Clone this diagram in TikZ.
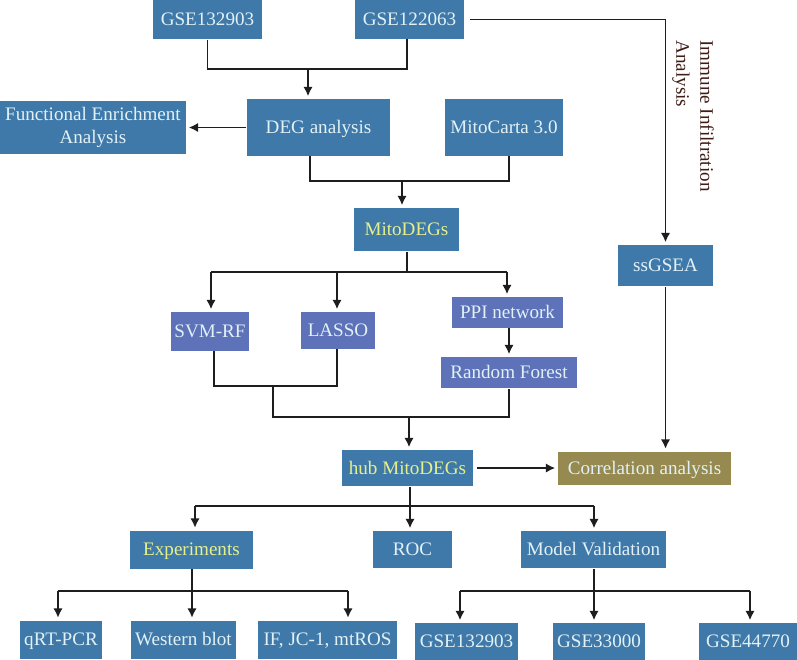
\documentclass[tikz,border=0pt]{standalone}
\usepackage{fontspec}
\setmainfont{Liberation Serif}
\usetikzlibrary{positioning,arrows.meta}
\definecolor{boxblue}{HTML}{3F79A9}
\definecolor{boxpurple}{HTML}{5D72B8}
\definecolor{boxolive}{HTML}{968A50}
\definecolor{textpale}{HTML}{E2F1F6}
\definecolor{textyellow}{HTML}{E6F08A}
\definecolor{textbrown}{HTML}{3E1C14}
\definecolor{lineblack}{HTML}{1E1E1E}

\begin{document}
\begin{tikzpicture}[-{Latex[length=8pt,width=8pt]}, x=0.03cm, y=-0.03cm, on grid, line width=1.4pt, shorten >=0.06cm, draw=lineblack,
boxsize/.style 2 args={minimum width=#1*0.03cm, minimum height=#2*0.03cm},
stepbox/.style={rectangle, inner sep=0pt, align=center, text=textpale, text height=11pt, text depth=0.4pt,
  font=\fontsize{16.3}{19}\selectfont},
bluebox/.style={stepbox, fill=boxblue},
purplebox/.style={stepbox, fill=boxpurple},
olivebox/.style={stepbox, fill=boxolive},
plain/.style={-, shorten >=0pt}]
\useasboundingbox (0,0) rectangle (797,659);

\node[bluebox, boxsize={109}{39}] (TopLeft) at (207.5,19.5) {GSE132903};
\node[bluebox, boxsize={109}{39}] (TopRight) [right=6.06cm of TopLeft] {GSE122063};
\node[bluebox, boxsize={143}{57}] (Deg) [below right=3.24cm and 3.33cm of TopLeft] {DEG analysis};
\node[bluebox, boxsize={186}{53}, text height={}, text depth={}] (Functional) [left=6.765cm of Deg] {Functional Enrichment\\Analysis};
\node[bluebox, boxsize={118}{57}] (MitoCarta) [right=5.565cm of Deg] {MitoCarta 3.0};
\node[bluebox, boxsize={105}{43}, text=textyellow] (MitoDegs) [below right=3.06cm and 2.64cm of Deg] {MitoDEGs};
\node[bluebox, boxsize={95}{41}] (SsGsea) [below right=7.38cm and 7.68cm of TopRight] {ssGSEA};
\node[purplebox, boxsize={78}{39}] (SvmRf) [below left=3.06cm and 5.895cm of MitoDegs] {SVM-RF};
\node[purplebox, boxsize={74}{37}] (Lasso) [below left=3.03cm and 2.055cm of MitoDegs] {LASSO};
\node[purplebox, boxsize={111}{31}] (Ppi) [below right=2.49cm and 3.03cm of MitoDegs] {PPI network};
\node[purplebox, boxsize={136}{31}] (Forest) [below right=1.8cm and 0.045cm of Ppi] {Random Forest};
\node[bluebox, boxsize={131}{36}, text=textyellow] (Hub) [below left=2.865cm and 3.045cm of Forest] {hub MitoDEGs};
\node[olivebox, boxsize={173}{33}] (Correlation) [right=7.11cm of Hub] {Correlation analysis};
\node[bluebox, boxsize={79}{37}] (Roc) [below right=2.445cm and 0.15cm of Hub] {ROC};
\node[bluebox, boxsize={123}{38}, text=textyellow] (Experiments) [left=6.63cm of Roc] {Experiments};
\node[bluebox, boxsize={145}{37}] (Validation) [right=5.43cm of Roc] {Model Validation};
\node[bluebox, boxsize={105}{38}] (Western) [below left=2.7cm and 0.24cm of Experiments] {Western blot};
\node[bluebox, boxsize={82}{38}] (Qpcr) [left=3.675cm of Western] {qRT-PCR};
\node[bluebox, boxsize={139}{38}] (IfJc) [right=4.32cm of Western] {IF, JC-1, mtROS};
\node[bluebox, boxsize={92}{37}] (SetB) [below right=2.76cm and 0.165cm of Validation] {GSE33000};
\node[bluebox, boxsize={103}{37}] (SetA) [left=3.975cm of SetB] {GSE132903};
\node[bluebox, boxsize={98}{37}] (SetC) [right=4.47cm of SetB] {GSE44770};
\node[rotate=-90, align=left, text=textbrown, font=\fontsize{16.3}{20.5}\selectfont] (Immune) [below right=2.895cm and 8.505cm of TopRight] {Immune Infiltration\\Analysis};

\coordinate (TopJoin) at (308,69);
\coordinate (TopDrop) at (407,39);
\coordinate (DegDrop) at (310,156);
\coordinate (CartaDrop) at (509,156);
\coordinate (DegJoin) at (402,181);
\coordinate (MitoJoin) at (407,272);
\coordinate (SvmArrow) at (211,272);
\coordinate (LassoArrow) at (337,272);
\coordinate (PpiArrow) at (507,272);
\coordinate (ForestArrow) at (509,328);
\coordinate (SvmDrop) at (214,351);
\coordinate (LassoDrop) at (337,349);
\coordinate (LowJoin) at (273,386);
\coordinate (HubJoin) at (409,417);
\coordinate (HubMid) at (410,506);
\coordinate (ExpArrow) at (195,506);
\coordinate (ValArrow) at (594,506);
\coordinate (ExpMid) at (192,591);
\coordinate (ValMid) at (594,591);
\coordinate (QpcrArrow) at (58,591);
\coordinate (IfArrow) at (348,591);
\coordinate (SetAArrow) at (460,591);
\coordinate (SetCArrow) at (750,591);

\draw[plain] (TopLeft.south) |- (TopJoin) -| (TopDrop);
\draw (TopJoin) -- (TopJoin |- Deg.north);
\path (Deg) edge (Functional);
\draw[plain] (DegDrop) |- (DegJoin) -| (CartaDrop);
\draw (DegJoin) -- (DegJoin |- MitoDegs.north);
\draw[plain] (MitoJoin |- MitoDegs.south) -- (MitoJoin);
\draw[plain] (SvmArrow) -- (PpiArrow);
\draw (SvmArrow) -- (SvmArrow |- SvmRf.north);
\draw (LassoArrow) -- (LassoArrow |- Lasso.north);
\draw (PpiArrow) -- (PpiArrow |- Ppi.north);
\draw (ForestArrow) -- (ForestArrow |- Forest.north);
\draw[plain] (SvmDrop) |- (LassoDrop |- LowJoin) -- (LassoDrop);
\draw[plain] (LowJoin) |- (HubJoin) -| (ForestArrow |- Forest.south);
\draw (HubJoin) -- (HubJoin |- Hub.north);
\draw[shorten <=0.15cm] (TopRight.east) -| (SsGsea.north);
\draw (SsGsea.south) -- (SsGsea.south |- Correlation.north);
\draw[shorten <=0.09cm] (Hub) -- (Correlation);
\draw (HubMid |- Hub.south) -- (HubMid |- Roc.north);
\draw[plain] (ExpArrow) -- (ValArrow);
\draw (ExpArrow) -- (ExpArrow |- Experiments.north);
\draw (ValArrow) -- (ValArrow |- Validation.north);
\draw (ExpMid |- Experiments.south) -- (ExpMid |- Western.north);
\draw[plain] (QpcrArrow) -- (IfArrow);
\draw (QpcrArrow) -- (QpcrArrow |- Qpcr.north);
\draw (IfArrow) -- (IfArrow |- IfJc.north);
\draw (ValMid |- Validation.south) -- (ValMid |- SetB.north);
\draw[plain] (SetAArrow) -- (SetCArrow);
\draw (SetAArrow) -- (SetAArrow |- SetA.north);
\draw (SetCArrow) -- (SetCArrow |- SetC.north);
\end{tikzpicture}
\end{document}
